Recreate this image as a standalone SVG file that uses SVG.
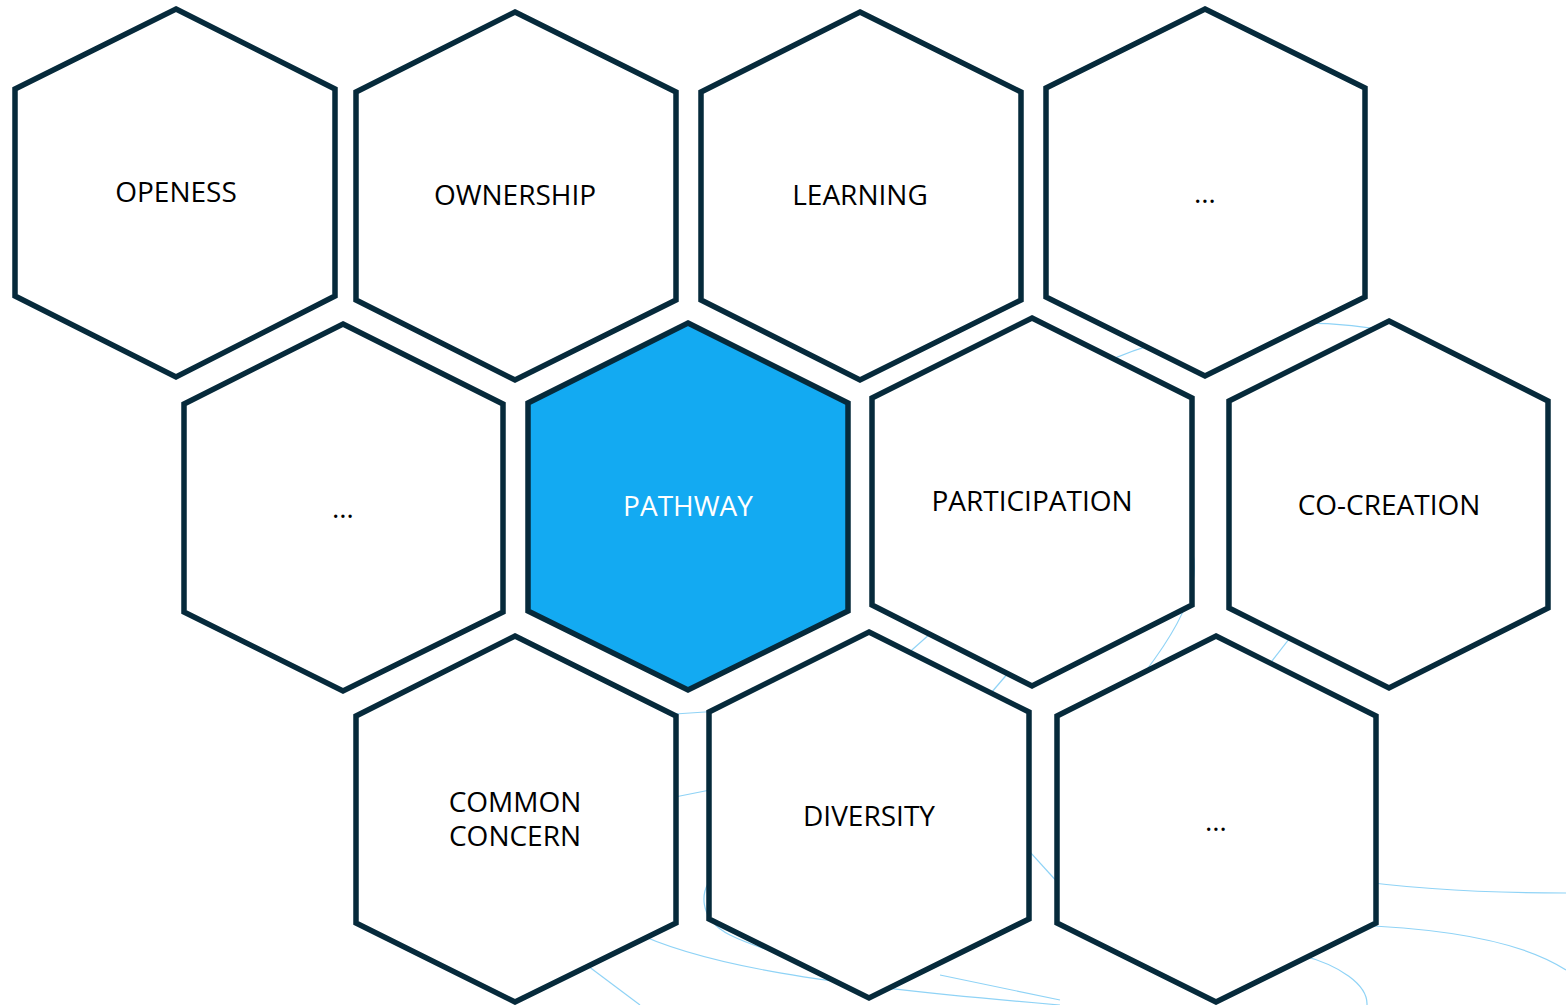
<svg xmlns="http://www.w3.org/2000/svg" width="1566" height="1005" viewBox="0 0 1566 1005">
<style>
.hex{fill:#ffffff;stroke:#062a3b;stroke-width:5.5;stroke-linejoin:miter}
.hex.hl{fill:#13aaf2}
.lbl{font-family:"Open Sans","Noto Sans",sans-serif;font-size:28px;fill:#000000;text-anchor:middle}
.lbl.w{fill:#ffffff}
.bg{fill:none;stroke:#8fd3f6;stroke-width:1.2}
</style>
<rect width="1566" height="1005" fill="#ffffff"/>
<g id="connectors">
<path class="bg" d="M1100,365 C1180,325 1330,305 1440,345"/>
<path class="bg" d="M1180,520 C1205,560 1200,600 1145,672"/>
<path class="bg" d="M1300,625 L1265,670"/>
<path class="bg" d="M940,625 L895,665"/>
<path class="bg" d="M1015,665 L985,700"/>
<path class="bg" d="M660,715 L720,711"/>
<path class="bg" d="M660,800 L720,788"/>
<path class="bg" d="M720,870 C695,890 700,920 730,935 C760,950 790,955 800,960"/>
<path class="bg" d="M630,930 C700,965 820,985 1060,1005"/>
<path class="bg" d="M940,975 L1060,1000"/>
<path class="bg" d="M580,960 L640,1005"/>
<path class="bg" d="M1010,830 L1060,885"/>
<path class="bg" d="M1350,880 C1420,890 1500,893 1566,893"/>
<path class="bg" d="M1350,925 C1440,928 1520,940 1566,970"/>
<path class="bg" d="M1300,955 C1340,965 1368,985 1367,1005"/>
</g>
<g id="n-openess"><polygon class="hex" points="176,9 335,89 335,296 176,377 15,296 15,89"/><text class="lbl" x="176" y="202">OPENESS</text></g>
<g id="n-ownership"><polygon class="hex" points="515,12 676,92 676,300 515,380 356,300 356,92"/><text class="lbl" x="515" y="205">OWNERSHIP</text></g>
<g id="n-learning"><polygon class="hex" points="860,12 1021,92 1021,300 860,380 701,300 701,92"/><text class="lbl" x="860" y="205">LEARNING</text></g>
<g id="n-more1"><polygon class="hex" points="1205,9 1365,88 1365,297 1205,376 1046,297 1046,88"/><text class="lbl" x="1205" y="203">…</text></g>
<g id="n-more2"><polygon class="hex" points="343,324 503,404 503,612 343,691 184,612 184,404"/><text class="lbl" x="343" y="518">…</text></g>
<g id="n-pathway"><polygon class="hex hl" points="688,323 848,403 848,611 688,690 528,611 528,403"/><text class="lbl w" x="688" y="516">PATHWAY</text></g>
<g id="n-participation"><polygon class="hex" points="1032,318 1192,398 1192,605 1032,686 872,605 872,398"/><text class="lbl" x="1032" y="511">PARTICIPATION</text></g>
<g id="n-cocreation"><polygon class="hex" points="1389,321 1548,401 1548,608 1389,688 1229,608 1229,401"/><text class="lbl" x="1389" y="515">CO-CREATION</text></g>
<g id="n-common"><polygon class="hex" points="515,636 676,716 676,923 515,1002 356,923 356,716"/><text class="lbl" x="515" y="812">COMMON</text><text class="lbl" x="515" y="846">CONCERN</text></g>
<g id="n-diversity"><polygon class="hex" points="869,632 1029,712 1029,919 869,998 709,919 709,712"/><text class="lbl" x="869" y="826">DIVERSITY</text></g>
<g id="n-more3"><polygon class="hex" points="1216,636 1376,716 1376,923 1216,1002 1057,923 1057,716"/><text class="lbl" x="1216" y="831">…</text></g>
</svg>
